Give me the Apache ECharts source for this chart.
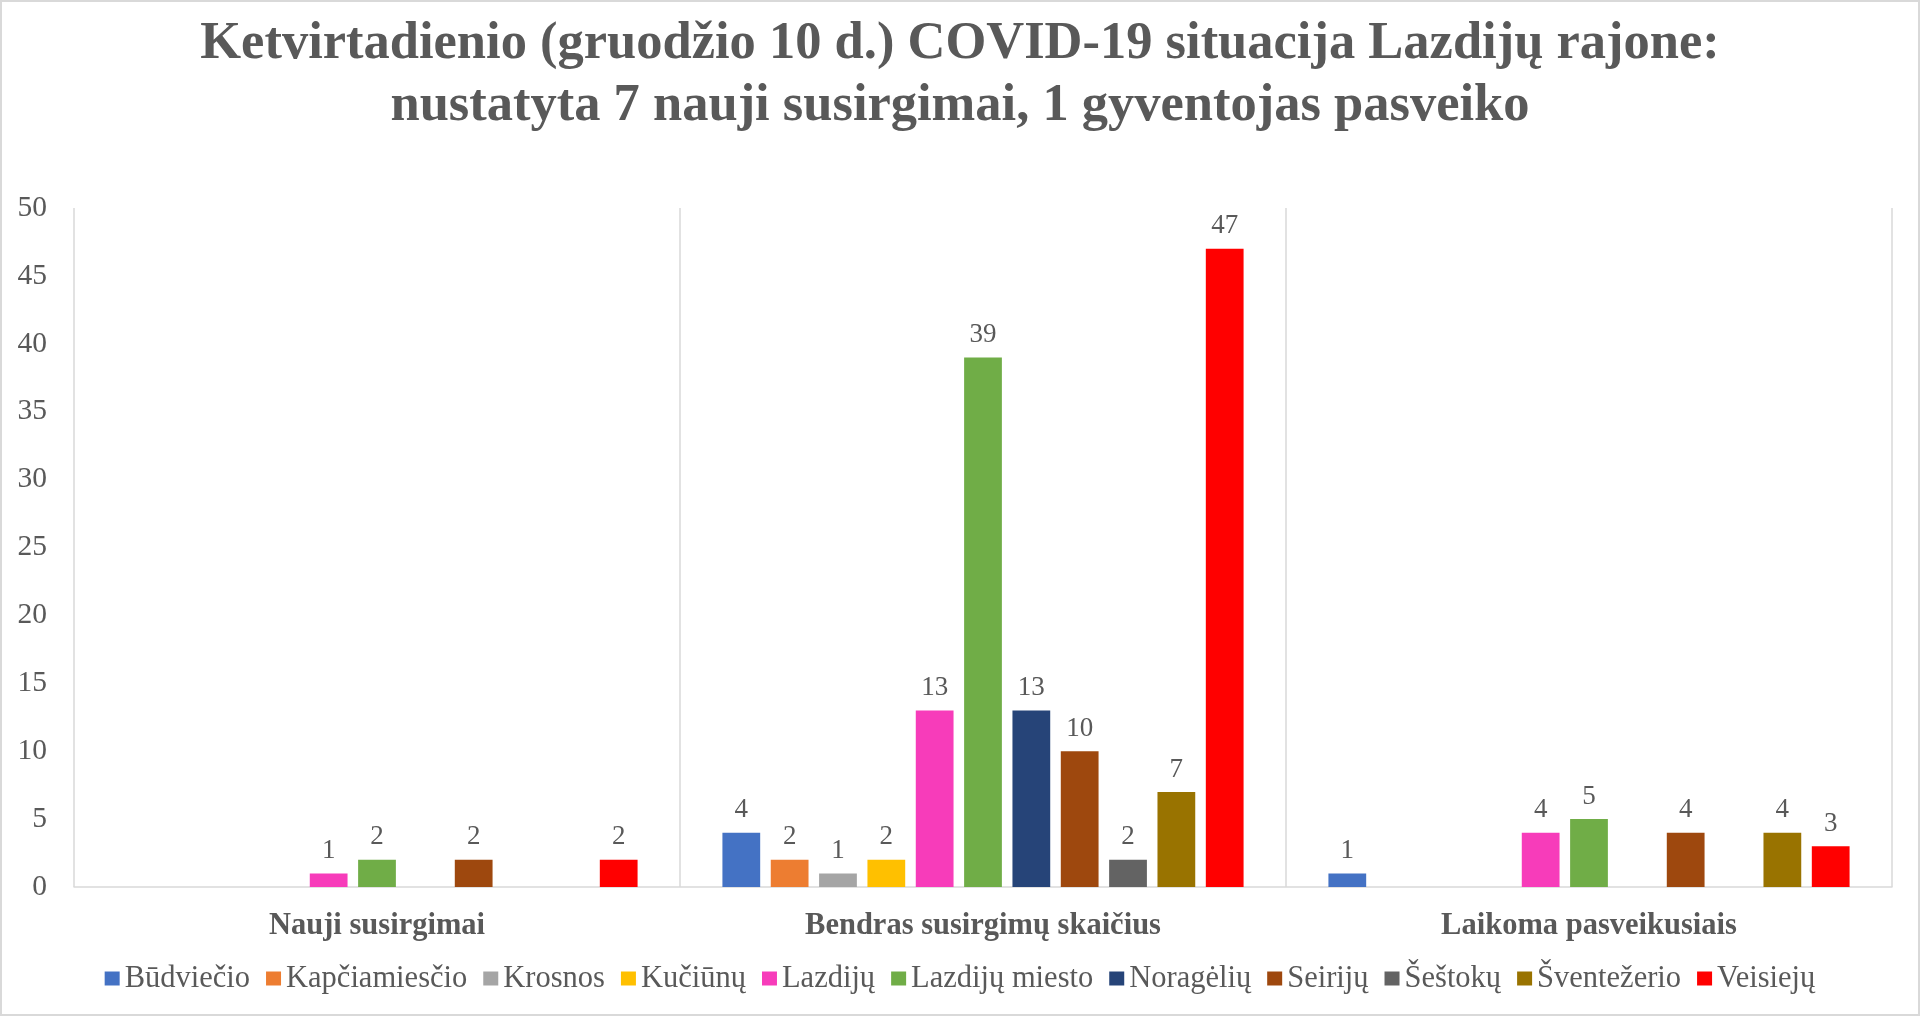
<!DOCTYPE html>
<html>
<head>
<meta charset="utf-8">
<title>COVID-19 situacija Lazdijų rajone</title>
<script src="https://cdn.jsdelivr.net/npm/echarts@6/dist/echarts.min.js"></script>
<style>
  html, body { margin: 0; padding: 0; background: #fff; }
  #main { width: 1920px; height: 1016px; box-sizing: border-box; border: 2px solid #d9d9d9; }
</style>
</head>
<body>
<div id="main"></div>
<script>
// categories on the x axis
const categories = ['Nauji susirgimai', 'Bendras susirgimų skaičius', 'Laikoma pasveikusiais'];

// one array per seniūnija: [naujų, iš viso, pasveikę]; null = no bar
const budvieciai    = [null, 4, 1];
const kapciamiestis = [null, 2, null];
const krosna        = [null, 1, null];
const kuciunai      = [null, 2, null];
const lazdijai      = [1, 13, 4];
const lazdijuMiestas = [2, 39, 5];
const noragėliai    = [null, 13, null];
const seirijai      = [2, 10, 4];
const sestokai      = [null, 2, null];
const sventezeris   = [null, 7, 4];
const veisiejai     = [2, 47, 3];

const seriesNames = ['Būdviečio', 'Kapčiamiesčio', 'Krosnos', 'Kučiūnų', 'Lazdijų',
  'Lazdijų miesto', 'Noragėlių', 'Seirijų', 'Šeštokų', 'Šventežerio', 'Veisiejų'];
const seriesValues = [budvieciai, kapciamiestis, krosna, kuciunai, lazdijai,
  lazdijuMiestas, noragėliai, seirijai, sestokai, sventezeris, veisiejai];
const colors = ['#4472C4', '#ED7D31', '#A5A5A5', '#FFC000', '#F73CBA',
  '#70AD47', '#264478', '#9E480E', '#636363', '#997300', '#FF0000'];

const yTicks = { min: 0, max: 50, interval: 5 };

const font = 'Liberation Serif';
const textColor = '#595959';

var myChart = echarts.init(document.getElementById('main'));

var option = {
  animation: false,
  color: colors,
  title: {
    text: 'Ketvirtadienio (gruodžio 10 d.) COVID-19 situacija Lazdijų rajone:\nnustatyta 7 nauji susirgimai, 1 gyventojas pasveiko',
    left: 'center',
    top: 6,
    textStyle: {
      fontFamily: font,
      fontSize: 52.5,
      fontWeight: 'bold',
      color: textColor,
      lineHeight: 62
    }
  },
  legend: {
    bottom: 15,
    left: 'center',
    icon: 'rect',
    itemWidth: 15,
    itemHeight: 14,
    itemGap: 16,
    textStyle: { fontFamily: font, fontSize: 30.5, color: textColor },
    data: seriesNames
  },
  grid: { left: 72, right: 26, top: 206, bottom: 127, containLabel: false },
  xAxis: {
    type: 'category',
    data: categories,
    axisLine: { lineStyle: { color: '#d9d9d9', width: 1.5 } },
    axisTick: { show: false },
    splitLine: { show: true, lineStyle: { color: '#d9d9d9', width: 1.5 } },
    axisLabel: {
      margin: 24,
      fontFamily: font,
      fontSize: 30.5,
      fontWeight: 'bold',
      color: textColor
    }
  },
  yAxis: {
    type: 'value',
    min: yTicks.min,
    max: yTicks.max,
    interval: yTicks.interval,
    axisLine: { show: false },
    axisTick: { show: false },
    splitLine: { show: false },
    axisLabel: { margin: 27, fontFamily: font, fontSize: 29.5, color: textColor }
  },
  series: seriesNames.map((name, i) => ({
    name: name,
    type: 'bar',
    data: seriesValues[i],
    barGap: '28%',
    barCategoryGap: '14%',
    label: {
      show: true,
      position: 'top',
      distance: 9,
      fontFamily: font,
      fontSize: 27,
      color: textColor
    }
  }))
};

myChart.setOption(option);
</script>
</body>
</html>
